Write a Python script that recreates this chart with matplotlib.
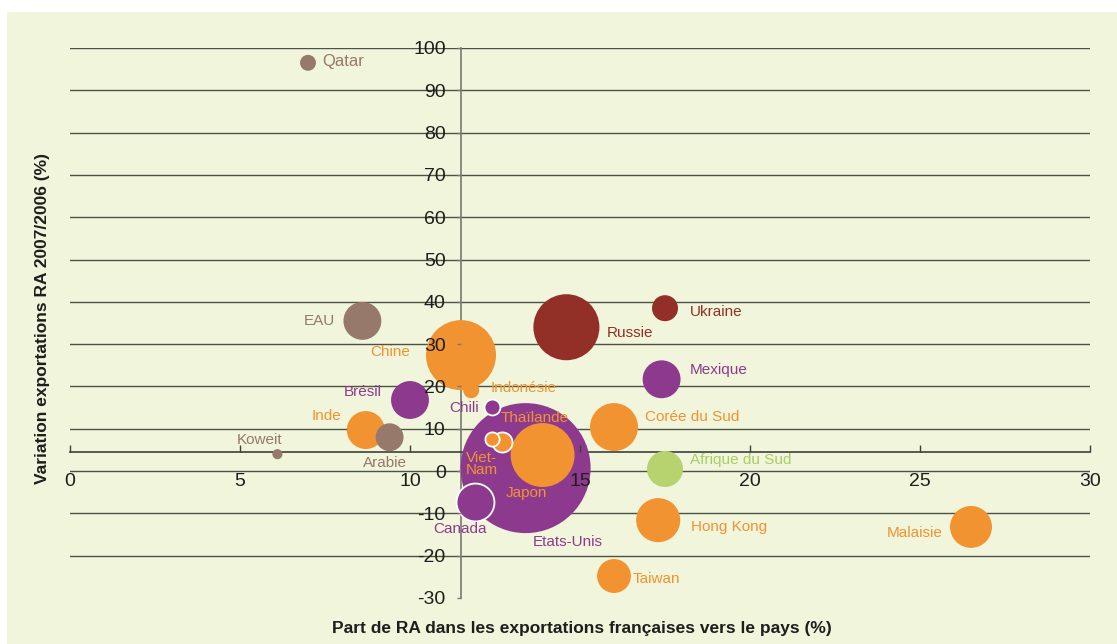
import matplotlib

matplotlib.use("Agg")
import matplotlib.pyplot as plt
from matplotlib.patches import Rectangle

# données
PAYS = [
    "Etats-Unis", "Qatar", "EAU", "Chine", "Russie", "Ukraine", "Mexique", "Brésil",
    "Indonésie", "Chili", "Inde", "Arabie", "Koweit", "Japon", "Thaïlande", "Viet-\nNam",
    "Canada", "Corée du Sud", "Afrique du Sud", "Hong Kong", "Taiwan", "Malaisie",
]
PART_RA = [
    13.4, 7.0, 8.6, 11.5, 14.6, 17.5, 17.4, 10.0,
    11.8, 12.4, 8.7, 9.4, 6.1, 13.9, 12.7, 12.4,
    11.9, 16.0, 17.5, 17.3, 16.0, 26.5,
]
VARIATION = [
    0.7, 96.5, 35.5, 27.4, 34.0, 38.5, 21.7, 16.8,
    19.1, 15.1, 9.7, 8.0, 4.0, 3.8, 6.9, 7.6,
    -7.3, 10.4, 0.5, -11.6, -24.8, -13.2,
]
POIDS = [
    100, 1.5, 8.5, 29, 25.8, 4.0, 8.5, 8.5,
    1.5, 1.5, 8.5, 4.6, 0.6, 24.2, 2.4, 1.2,
    8.5, 13.6, 7.7, 11.5, 6.8, 10.4,
]
ZONE = [
    "amerique", "moyen_orient", "moyen_orient", "asie", "europe", "europe", "amerique", "amerique",
    "asie", "amerique", "asie", "moyen_orient", "moyen_orient", "asie", "asie", "asie",
    "amerique", "asie", "afrique", "asie", "asie", "asie",
]
Y_TICKS = list(range(-30, 101, 10))
X_TICKS = list(range(0, 31, 5))

COULEURS = {
    "amerique": "#8d3a8e",
    "moyen_orient": "#96796a",
    "asie": "#f19330",
    "europe": "#922f27",
    "afrique": "#b6d36f",
}
TEXTE_AFRIQUE = "#a9cc66"
BORD_BLANC = {"Chili", "Canada", "Viet-\nNam", "Thaïlande"}

# décalage des étiquettes en pixels (dx, dy vers le bas), alignement horizontal
ETIQUETTES = {
    "Etats-Unis": (7, 74, "left"),
    "Qatar": (14, -1, "left"),
    "EAU": (-27, 0, "right"),
    "Chine": (-51, -3, "right"),
    "Russie": (40, 6, "left"),
    "Ukraine": (25, 4, "left"),
    "Mexique": (28, -9, "left"),
    "Brésil": (-28, -8, "right"),
    "Indonésie": (19, -2, "left"),
    "Chili": (-13, 1, "right"),
    "Inde": (-24, -14, "right"),
    "Arabie": (-5, 26, "center"),
    "Koweit": (-18, -14, "center"),
    "Japon": (-16, 38, "center"),
    "Thaïlande": (-1, -24, "left"),
    "Viet-\nNam": (-26, 25, "left"),
    "Canada": (-15, 27, "center"),
    "Corée du Sud": (31, -10, "left"),
    "Afrique du Sud": (25, -9, "left"),
    "Hong Kong": (33, 7, "left"),
    "Taiwan": (19, 3, "left"),
    "Malaisie": (-28, 6, "right"),
}
TAILLE_TEXTE = {"Qatar": 12}

W, H = 1117, 644
RAYON_REF = 65  # rayon en pixels de la plus grosse bulle


def main() -> None:
    plt.rcParams["font.family"] = ["Liberation Sans", "DejaVu Sans"]
    plt.rcParams["axes.unicode_minus"] = False
    fig = plt.figure(figsize=(W / 100, H / 100), dpi=100, facecolor="white")
    fig.add_artist(Rectangle((7 / W, 0), 1 - 7 / W, 1 - 12 / H, transform=fig.transFigure,
                             facecolor="#f0f5db", edgecolor="none", zorder=0))

    left, right = 70 / W, 1090 / W
    bottom, top = 1 - 598 / H, 1 - 48 / H
    ax = fig.add_axes([left, bottom, right - left, top - bottom])
    ax.set_facecolor("none")
    ax.set_xlim(0, 30)
    ax.set_ylim(-30, 100)

    for y in Y_TICKS:
        if y > -30:
            ax.axhline(y, color="#4c5244", lw=1.0, zorder=1)

    for name in ("top", "right"):
        ax.spines[name].set_visible(False)
    ax.spines["left"].set_position(("data", 11.5))
    ax.spines["bottom"].set_position(("data", 4.5))
    ax.spines["left"].set_color("#7a7a72")
    ax.spines["bottom"].set_color("#3c4038")
    ax.spines["left"].set_zorder(1.5)
    ax.spines["bottom"].set_zorder(1.5)
    ax.spines["left"].set_linewidth(1.2)
    ax.spines["bottom"].set_linewidth(1.2)

    ax.set_yticks(Y_TICKS)
    ax.set_xticks(X_TICKS)
    ax.tick_params(axis="y", direction="out", length=3, width=1, color="#7a7a72",
                   labelsize=14, labelcolor="#1e1e1e", pad=8)
    ax.tick_params(axis="x", direction="in", length=5, width=1, color="#3c4038",
                   labelsize=14, labelcolor="#1e1e1e", pad=15)
    ax.xaxis.set_zorder(4)
    ax.yaxis.set_zorder(4)

    # taille des marqueurs : aire proportionnelle au poids
    px_to_pt = 72 / fig.dpi
    for pays, x, y, poids, zone in zip(PAYS, PART_RA, VARIATION, POIDS, ZONE):
        r_px = RAYON_REF * (poids / max(POIDS)) ** 0.5
        s = (2 * r_px * px_to_pt) ** 2
        bord = "white" if pays in BORD_BLANC else "none"
        ax.scatter([x], [y], s=s, color=COULEURS[zone], edgecolors=bord,
                   linewidths=1.3, zorder=3, clip_on=False)
        dx, dy, ha = ETIQUETTES[pays]
        couleur_txt = TEXTE_AFRIQUE if zone == "afrique" else COULEURS[zone]
        ax.annotate(pays, (x, y), xytext=(dx, -dy), textcoords="offset pixels",
                    ha=ha, va="center", fontsize=TAILLE_TEXTE.get(pays, 11),
                    color=couleur_txt, zorder=6, linespacing=0.85)

    fig.text(43 / W, 1 - 318 / H, "Variation exportations RA 2007/2006 (%)", rotation=90,
             ha="center", va="center", fontsize=12.5, fontweight="bold", color="#1e1e1e")
    fig.text(582 / W, 1 - 629 / H, "Part de RA dans les exportations françaises vers le pays (%)",
             ha="center", va="center", fontsize=12.5, fontweight="bold", color="#1e1e1e")

    fig.savefig("out.png", dpi=100, facecolor=fig.get_facecolor())


if __name__ == "__main__":
    main()
